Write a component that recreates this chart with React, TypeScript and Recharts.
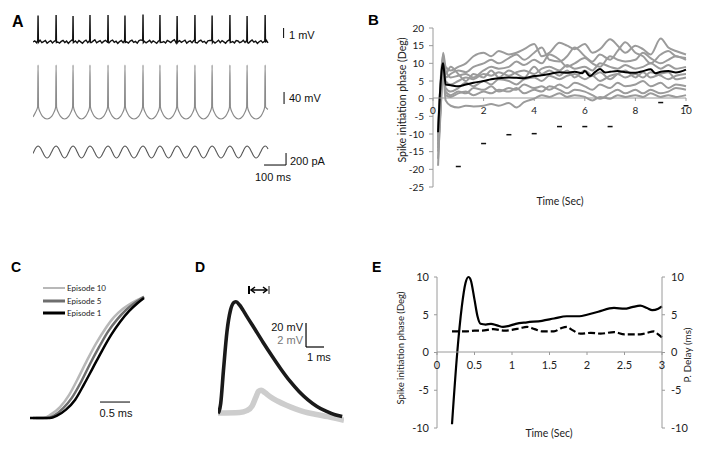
import React from "react";
import {
  LineChart,
  ComposedChart,
  Line,
  Scatter,
  XAxis,
  YAxis,
  ReferenceLine,
} from "recharts";

// ---------- Panel A: example traces (time in ms) ----------
const traceEnd = 1068;
const spikeTimes = [23, 105, 182, 259, 341, 418, 500, 577, 655, 736, 814, 895, 973, 1055];
const a1SpikeMv = [2.65, 2.7, 2.6, 2.7, 2.7, 2.65, 2.75, 2.7, 2.6, 2.7, 2.65, 2.7, 2.6, 2.7];
const a1PreSpike = 0.15;
const a1PostSpike = -0.05;
const a1NoiseUnit = 0.015; // mV per noise unit
// baseline noise of the top trace
const a1Noise = [
  0, 8, -5, 6, 12, -4, 3, 10, -8, 2,
  9, -6, 5, 14, 0, -7, 4, 11, -3, 6,
  -9, 3, 13, -2, 7, -6, 10, 1, -8, 5,
  12, -4, 8, -3, 6, 15, -5, 2, 9, -7,
  4, 11, 0, -6, 7, 13, -2, 5, -9, 3,
  10, -4, 8, 1, -7, 6, 12, -3, 4, -8,
  9, 14, -1, 5, -6, 2, 11, -5, 7, 0,
  -9, 6, 13, -2, 3, -7, 10, 4, -4, 8,
  15, -6, 1, 9, -3, 5, 12, -8, 2, 7,
  -5, 10, 0, -6, 6, 13, -1, 4, -9, 8,
  11, -3, 5, -7, 2, 12, -4, 9, 1, -8,
  6, 14, -2, 3, -6, 10, 7, -5, 0, 11,
  -3, 8, -7, 4, 13, -1, 6, -9, 2, 9,
  -4, 5, 12, -6,
];
// middle trace (mV): points around each spike, offsets in ms
const a2Lead = [[0, -63], [11, -48], [21, -30]];
const a2After = [[2, -30], [10, -48], [20, -61]];
const a2Before = [[20, -61], [10, -48], [2, -30]];
const a2Trough = -70;
const a2SpikeMv = 110;
const a2Tail = [[1057, -30], [1068, -38]];
// bottom trace: injected current (pA), values at eighths of each cycle
const a3Lead = [[0, -24], [3, 0], [13, 71]];
const a3Cycle = [100, 71, 0, -71, -100, -71, 0, 71];
const a3Tail = [[1068, 50]];

// ---------- Panel B: spike initiation phase vs time ----------
const bGrid = [0.2, 0.3, 0.4, 0.5, 0.7, 1.0, 1.3, 1.6, 2.0, 2.3, 2.6, 3.0, 3.3, 3.6, 4.0, 4.3, 4.6, 5.0, 5.3, 5.6, 6.0, 6.3, 6.6, 7.0, 7.3, 7.6, 8.0, 8.3, 8.6, 9.0, 9.3, 9.6, 10.0];
const bGray1 = [-13, 2, 13, 9, 8, 9, 10, 12, 13, 12, 13.5, 12.5, 13, 14, 15.5, 12, 13, 15.8, 15, 14, 15.5, 13, 14, 16.8, 15, 13, 15, 14, 12.5, 17, 14.5, 13.5, 12.5];
const bGray2 = [-19, 0, 12, 6, 7, 8, 7.5, 9, 10, 11, 10, 11.5, 12.5, 11, 13, 14.5, 11, 10.5, 12, 14.5, 12, 10.5, 12.5, 11, 13.5, 16, 13, 12, 10, 12.5, 13.5, 12, 11.5];
const bGray3 = [-15, -2, 11, 8, 6, 6.5, 7, 6, 8, 9, 8.5, 9, 10.5, 9.5, 11, 10, 12.5, 11, 9, 10, 11.5, 10, 9, 12, 11, 10.5, 11, 13, 11.5, 10, 11, 12, 11];
const bGray4 = [-10, 3, 10, 5, 4, 5, 6, 5.5, 7, 6.5, 7.5, 6.5, 7.5, 8, 7, 8.5, 9, 8, 9.5, 8.5, 9, 8, 10, 9, 8.5, 9.5, 8.5, 9, 10, 8.5, 9.5, 8.5, 9];
const bGray5 = [-12, 1, 9.5, 3, 2, 3, 4.5, 3.5, 5, 4, 5.5, 5, 4, 5.5, 6, 5, 6.5, 5.5, 6.5, 7, 5.5, 6.5, 5, 6.5, 7, 6, 7, 6, 7.5, 6.5, 5.5, 6.5, 7];
const bGray6 = [-8, 4, 9, 2, 1, 2, 1.5, 3, 2.5, 3.5, 2, 3, 2.5, 4, 3, 3.5, 2.5, 4, 3, 4.5, 3.5, 2.5, 4, 3, 4.5, 3.5, 4, 5, 3.5, 4.5, 3, 4, 3.5];
const bGray7 = [-17, -4, 10.5, 1, 0.5, 1.5, 2, 1, 2, 1.5, 2.5, 2, 3, 1.5, 2.5, 2, 3.5, 2.5, 1.5, 2.5, 2, 1, 0, 1.5, 2.5, 1.5, 2.5, 1.5, 2.5, 1.5, 2, 3, 2.5];
const bGray8 = [-14, -3, 8, -0.5, -2, -2.5, -2, -2.2, -2, -1.5, -2, -1.2, -2.5, -1, 0, 1, 0.5, 1.5, 0.5, 1, 0.5, -0.5, 0.5, 0, 1, 0.5, 1, 0.5, 1.5, 0.5, 1, 0.5, 1];
const bGray9 = [-11, 5, 12.5, 7, 9, 7, 5, 7, 6, 8, 6, 8, 7, 6, 9, 7, 8, 6.5, 8, 6, 8, 6.5, 7.5, 5.5, 7, 8, 6, 7.5, 6, 7, 7.5, 5.5, 6];
const bGraySeries = [bGray1, bGray2, bGray3, bGray4, bGray5, bGray6, bGray7, bGray8, bGray9];
const bMean = [
  [0.2, -9.5], [0.28, 2], [0.36, 9], [0.4, 10], [0.45, 7], [0.5, 4], [0.7, 3.8], [1, 3.5],
  [1.3, 4], [1.6, 4.5], [2, 5], [2.3, 5.5], [2.6, 5.8], [3, 6], [3.3, 5.9], [3.6, 5.8],
  [4, 6.4], [4.3, 6.6], [4.6, 7], [5, 7.5], [5.3, 7.3], [5.6, 7.6], [5.9, 7.2], [6, 7.8],
  [6.2, 6.4], [6.4, 7.5], [6.6, 8.4], [6.8, 7.4], [7, 7.6], [7.3, 7.8], [7.6, 7.5], [8, 7.3],
  [8.3, 7.8], [8.6, 8.3], [8.8, 7.2], [9, 7.6], [9.3, 7.8], [9.6, 7.4], [10, 8.2],
];
const bDashT = [1, 2, 3, 4, 5, 6, 7, 9, 10];
const bDashV = [-19.2, -12.7, -10.2, -9.9, -7.9, -7.9, -7.9, -1.1, -2.0];
const bYTicks = [-25, -20, -15, -10, -5, 0, 5, 10, 15, 20];
const bXTicks = [0, 2, 4, 6, 8, 10];

// ---------- Panel C: spike onset, three episodes (ms, normalised) ----------
const cEpisode1 = [[0, 0], [0.33, 0], [0.45, 0.02], [0.6, 0.07], [0.75, 0.15], [0.9, 0.28], [1.05, 0.42], [1.2, 0.56], [1.35, 0.69], [1.5, 0.8], [1.65, 0.89], [1.8, 0.96], [1.9, 1.0]];
const cEpisode5 = [[0.05, 0], [0.28, 0], [0.4, 0.02], [0.55, 0.08], [0.7, 0.17], [0.85, 0.3], [1.0, 0.45], [1.15, 0.59], [1.3, 0.72], [1.45, 0.82], [1.6, 0.9], [1.75, 0.96], [1.9, 1.01]];
const cEpisode10 = [[0.1, 0], [0.22, 0], [0.35, 0.03], [0.5, 0.09], [0.65, 0.19], [0.8, 0.33], [0.95, 0.48], [1.1, 0.62], [1.25, 0.74], [1.4, 0.84], [1.55, 0.91], [1.7, 0.96], [1.9, 1.01]];

// ---------- Panel D: pre (black, mV) and post (gray, mV) responses ----------
const dPre = [[0, 0], [0.05, 1], [0.15, 8], [0.3, 35], [0.5, 68], [0.7, 86], [0.9, 92.3], [1.0, 92.7], [1.2, 90], [1.4, 85.5], [1.6, 80.5], [2.0, 71], [2.5, 59], [3.0, 47.5], [3.5, 36.5], [4.0, 26.5], [4.5, 18], [5.0, 11], [5.5, 5.5], [6.0, 1.5], [6.5, -1.5], [6.9, -3]];
const dPost = [[0, 0], [1.2, 0.05], [1.6, 0.2], [1.9, 0.6], [2.1, 1.3], [2.25, 1.8], [2.4, 1.9], [2.6, 1.7], [2.9, 1.35], [3.3, 1.0], [3.8, 0.65], [4.3, 0.35], [4.8, 0.1], [5.4, -0.1], [6.1, -0.3], [7.0, -0.6]];

// ---------- Panel E: phase (solid) and P. delay (dashed) ----------
const ePhase = [[0.2, -9.5], [0.27, 0], [0.33, 6], [0.38, 9.2], [0.42, 10], [0.45, 9.6], [0.5, 7], [0.54, 4.8], [0.58, 3.8], [0.65, 3.7], [0.72, 3.8], [0.8, 3.6], [0.88, 3.4], [0.95, 3.5], [1.05, 3.8], [1.2, 4.0], [1.4, 4.2], [1.56, 4.5], [1.73, 4.8], [1.9, 4.8], [2.0, 5.0], [2.15, 5.4], [2.36, 5.9], [2.5, 5.8], [2.6, 6.0], [2.71, 6.2], [2.8, 5.9], [2.87, 5.6], [2.95, 5.8], [3.0, 6.1]];
const eDelay = [[0.2, 2.8], [0.4, 2.8], [0.5, 2.9], [0.6, 2.9], [0.75, 3.1], [0.9, 2.9], [1.0, 3.0], [1.1, 3.2], [1.2, 3.4], [1.3, 3.1], [1.4, 2.8], [1.56, 2.8], [1.65, 3.2], [1.73, 3.4], [1.8, 3.0], [1.91, 2.5], [2.05, 2.6], [2.18, 2.5], [2.36, 2.7], [2.5, 2.4], [2.6, 2.4], [2.71, 2.4], [2.8, 2.6], [2.89, 2.8], [2.95, 2.4], [3.0, 2.0]];
const eYTicks = [-10, -5, 0, 5, 10];
const eXTicks = [0, 0.5, 1, 1.5, 2, 2.5, 3];

// ---------- build tables ----------
const rows = (pairs: number[][]) => pairs.map(([t, v]) => ({ t, v }));

const a1Data = (() => {
  const step = traceEnd / (a1Noise.length - 1);
  const pts = a1Noise
    .map((n, i) => ({ t: i * step, v: n * a1NoiseUnit }))
    .filter((p) => spikeTimes.every((s) => Math.abs(p.t - s) > 3));
  spikeTimes.forEach((s, i) => {
    pts.push({ t: s - 1.5, v: a1PreSpike }, { t: s, v: a1SpikeMv[i] }, { t: s + 1.5, v: a1PostSpike });
  });
  return pts.sort((a, b) => a.t - b.t);
})();

const a2Data = (() => {
  const pts = rows(a2Lead);
  spikeTimes.forEach((s, i) => {
    pts.push({ t: s, v: a2SpikeMv });
    const n = spikeTimes[i + 1];
    if (n === undefined) return;
    a2After.forEach(([dt, v]) => pts.push({ t: s + dt, v }));
    pts.push({ t: (s + n) / 2, v: a2Trough });
    a2Before.forEach(([dt, v]) => pts.push({ t: n - dt, v }));
  });
  return pts.concat(rows(a2Tail));
})();

const a3Data = (() => {
  const pts = rows(a3Lead);
  spikeTimes.forEach((s, i) => {
    const next = spikeTimes[i + 1] ?? s + (s - spikeTimes[i - 1]);
    const p = next - s;
    a3Cycle.forEach((v, k) => {
      const t = s + (k * p) / 8;
      if (t < traceEnd) pts.push({ t, v });
    });
  });
  return pts.concat(rows(a3Tail));
})();

const bGrayRows = bGrid.map((t, i) => {
  const r: Record<string, number> = { t };
  bGraySeries.forEach((s, k) => (r[`g${k}`] = s[i]));
  return r;
});
const bDashRows = bDashT.map((t, i) => ({ t, v: bDashV[i] }));
const bAxisRows = bXTicks.map((t) => ({ t, v: 0 }));
const eAxisRows = eXTicks.map((t) => ({ t, v: 0 }));

const FONT_SANS = "'Liberation Sans', Arial, sans-serif";
const FONT_CAL = "Lato, 'Open Sans', sans-serif";
const AXIS_GRAY = "#9a9a9a";
const NO_MARGIN = { top: 0, right: 0, bottom: 0, left: 0 };

function Box({ left, top, children }: { left: number; top: number; children: React.ReactNode }) {
  return <div style={{ position: "absolute", left, top }}>{children}</div>;
}

function DashMark(props: any) {
  const { cx, cy } = props;
  return <line x1={cx - 2.5} x2={cx + 2.5} y1={cy} y2={cy} stroke="#111" strokeWidth={1.5} />;
}

export default function App() {
  return (
    <div
      style={{
        position: "absolute",
        left: 0,
        top: 0,
        width: 707,
        height: 452,
        background: "#fff",
        overflow: "hidden",
      }}
    >
      {/* A: top trace */}
      <Box left={33} top={12}>
        <LineChart width={257} height={36} data={a1Data} margin={NO_MARGIN}>
          <XAxis dataKey="t" type="number" domain={[0, 1168]} hide />
          <YAxis domain={[-0.6, 3]} hide />
          <Line dataKey="v" type="linear" stroke="#111" strokeWidth={1.4} dot={false} isAnimationActive={false} />
          <ReferenceLine segment={[{ x: 1139, y: 0.4 }, { x: 1139, y: 1.4 }]} stroke="#000" strokeWidth={1} ifOverflow="visible" />
        </LineChart>
      </Box>
      {/* A: middle trace */}
      <Box left={33} top={62}>
        <LineChart width={257} height={60} data={a2Data} margin={NO_MARGIN}>
          <XAxis dataKey="t" type="number" domain={[0, 1168]} hide />
          <YAxis domain={[-80, 120]} hide />
          <Line dataKey="v" type="monotone" stroke="#8a8a8a" strokeWidth={1.2} dot={false} isAnimationActive={false} />
          <ReferenceLine segment={[{ x: 1141, y: -20 }, { x: 1141, y: 20 }]} stroke="#000" strokeWidth={1} ifOverflow="visible" />
        </LineChart>
      </Box>
      {/* A: bottom trace */}
      <Box left={33} top={140}>
        <LineChart width={257} height={27} data={a3Data} margin={NO_MARGIN}>
          <XAxis dataKey="t" type="number" domain={[0, 1168]} hide />
          <YAxis domain={[-250, 200]} hide />
          <Line dataKey="v" type="monotone" stroke="#555" strokeWidth={1.1} dot={false} isAnimationActive={false} />
          <ReferenceLine segment={[{ x: 1150, y: -217 }, { x: 1150, y: -17 }]} stroke="#000" strokeWidth={1} ifOverflow="visible" />
          <ReferenceLine segment={[{ x: 1050, y: -217 }, { x: 1150, y: -217 }]} stroke="#000" strokeWidth={1} ifOverflow="visible" />
        </LineChart>
      </Box>

      {/* B: main plot with y axis */}
      <Box left={397} top={20}>
        <ComposedChart width={297} height={175} data={bGrayRows} margin={{ top: 8, right: 8, bottom: 8, left: 0 }}>
          <XAxis dataKey="t" type="number" domain={[0, 10]} hide />
          <YAxis
            domain={[-25, 20]}
            ticks={bYTicks}
            interval={0}
            width={36}
            tickSize={4}
            tickMargin={5}
            axisLine={{ stroke: AXIS_GRAY }}
            tickLine={{ stroke: AXIS_GRAY }}
            tick={{ fontSize: 10, fill: "#222", fontFamily: FONT_CAL }}
          />
          {bGraySeries.map((_, k) => (
            <Line key={k} dataKey={`g${k}`} type="monotone" stroke="#9b9b9b" strokeWidth={2} dot={false} isAnimationActive={false} />
          ))}
          <Line data={rows(bMean)} dataKey="v" type="monotone" stroke="#000" strokeWidth={2} dot={false} isAnimationActive={false} />
          <Scatter data={bDashRows} dataKey="v" shape={DashMark} isAnimationActive={false} />
        </ComposedChart>
      </Box>
      {/* B: x axis crossing at zero */}
      <Box left={397} top={20}>
        <LineChart width={297} height={98} data={bAxisRows} margin={{ top: 8, right: 8, bottom: 0, left: 36 }}>
          <XAxis
            dataKey="t"
            type="number"
            domain={[0, 10]}
            ticks={bXTicks}
            interval={0}
            height={20}
            tickSize={3}
            tickMargin={6}
            axisLine={{ stroke: AXIS_GRAY }}
            tickLine={{ stroke: AXIS_GRAY }}
            tick={{ fontSize: 10, fill: "#222", fontFamily: FONT_CAL }}
          />
          <YAxis domain={[0, 1]} hide />
          <Line dataKey="v" stroke="none" dot={false} isAnimationActive={false} />
        </LineChart>
      </Box>

      {/* C */}
      <Box left={30} top={292}>
        <LineChart width={120} height={132} margin={NO_MARGIN}>
          <XAxis dataKey="t" type="number" domain={[0, 2]} hide />
          <YAxis domain={[-0.05, 1.05]} hide />
          <Line data={rows(cEpisode10)} dataKey="v" type="monotone" stroke="#b8b8b8" strokeWidth={2.5} dot={false} isAnimationActive={false} />
          <Line data={rows(cEpisode5)} dataKey="v" type="monotone" stroke="#6e6e6e" strokeWidth={2.5} dot={false} isAnimationActive={false} />
          <Line data={rows(cEpisode1)} dataKey="v" type="monotone" stroke="#000" strokeWidth={2.5} dot={false} isAnimationActive={false} />
          <ReferenceLine segment={[{ x: 1.167, y: 0.133 }, { x: 1.667, y: 0.133 }]} stroke="#000" strokeWidth={1} ifOverflow="visible" />
        </LineChart>
      </Box>

      {/* D */}
      <Box left={218} top={290}>
        <LineChart width={126} height={135} margin={NO_MARGIN}>
          <XAxis dataKey="t" type="number" domain={[0, 7]} hide />
          <YAxis yAxisId="l" domain={[-10, 102.5]} hide />
          <YAxis yAxisId="r" orientation="right" domain={[-1, 10.25]} hide />
          <Line yAxisId="r" data={rows(dPost)} dataKey="v" type="monotone" stroke="#cdcdcd" strokeWidth={5.5} dot={false} isAnimationActive={false} />
          <Line yAxisId="l" data={rows(dPre)} dataKey="v" type="monotone" stroke="#1a1a1a" strokeWidth={3.6} dot={false} isAnimationActive={false} />
          <ReferenceLine yAxisId="l" segment={[{ x: 4.89, y: 75 }, { x: 4.89, y: 55 }]} stroke="#000" strokeWidth={1.2} ifOverflow="visible" />
          <ReferenceLine yAxisId="l" segment={[{ x: 4.89, y: 55 }, { x: 5.89, y: 55 }]} stroke="#000" strokeWidth={1.2} ifOverflow="visible" />
        </LineChart>
      </Box>

      {/* E: main plot with both y axes */}
      <Box left={401} top={269}>
        <LineChart width={297} height={167} margin={{ top: 8, right: 0, bottom: 8, left: 0 }}>
          <XAxis dataKey="t" type="number" domain={[0, 3]} hide />
          <YAxis
            yAxisId="l"
            domain={[-10, 10]}
            ticks={eYTicks}
            interval={0}
            width={36}
            tickSize={3}
            tickMargin={5}
            axisLine={{ stroke: AXIS_GRAY }}
            tickLine={{ stroke: AXIS_GRAY }}
            tick={{ fontSize: 11, fill: "#222", fontFamily: FONT_CAL }}
          />
          <YAxis
            yAxisId="r"
            orientation="right"
            domain={[-10, 10]}
            ticks={eYTicks}
            interval={0}
            width={36}
            tickSize={3}
            tickMargin={6}
            axisLine={{ stroke: AXIS_GRAY }}
            tickLine={{ stroke: AXIS_GRAY }}
            tick={{ fontSize: 11, fill: "#222", fontFamily: FONT_CAL }}
          />
          <Line yAxisId="l" data={rows(ePhase)} dataKey="v" type="monotone" stroke="#000" strokeWidth={2.2} dot={false} isAnimationActive={false} />
          <Line yAxisId="r" data={rows(eDelay)} dataKey="v" type="monotone" stroke="#000" strokeWidth={2.2} strokeDasharray="7 3" dot={false} isAnimationActive={false} />
        </LineChart>
      </Box>
      {/* E: x axis crossing at zero */}
      <Box left={401} top={269}>
        <LineChart width={297} height={103} data={eAxisRows} margin={{ top: 8, right: 36, bottom: 0, left: 36 }}>
          <XAxis
            dataKey="t"
            type="number"
            domain={[0, 3]}
            ticks={eXTicks}
            interval={0}
            height={20}
            tickSize={3}
            tickMargin={6}
            axisLine={{ stroke: AXIS_GRAY }}
            tickLine={{ stroke: AXIS_GRAY }}
            tick={{ fontSize: 11, fill: "#222", fontFamily: FONT_CAL }}
          />
          <YAxis domain={[0, 1]} hide />
          <Line dataKey="v" stroke="none" dot={false} isAnimationActive={false} />
        </LineChart>
      </Box>

      {/* labels and annotations */}
      <svg width={707} height={452} style={{ position: "absolute", left: 0, top: 0, pointerEvents: "none" }}>
        <g fontFamily={FONT_SANS} fontWeight="bold" fill="#000">
          <text x={12} y={27} fontSize={16}>A</text>
          <text x={368} y={25} fontSize={15}>B</text>
          <text x={11} y={272} fontSize={14}>C</text>
          <text x={195} y={272} fontSize={14}>D</text>
          <text x={372} y={272} fontSize={14}>E</text>
        </g>
        <g fontFamily={FONT_SANS} fontSize={11} fill="#111">
          <text x={289} y={39}>1 mV</text>
          <text x={289} y={102}>40 mV</text>
          <text x={290} y={165}>200 pA</text>
          <text x={273} y={181} textAnchor="middle">100 ms</text>
          <text x={116} y={417} textAnchor="middle">0.5 ms</text>
          <text x={303} y={331} textAnchor="end">20 mV</text>
          <text x={303} y={344} textAnchor="end" fill="#777">2 mV</text>
          <text x={307} y={361}>1 ms</text>
        </g>
        <g fontFamily={FONT_CAL} fill="#222">
          <text x={560} y={205} fontSize={10.5} textAnchor="middle">Time (Sec)</text>
          <text transform="translate(406,100) rotate(-90)" fontSize={10.5} textAnchor="middle">
            Spike initiation phase (Deg)
          </text>
          <text x={549} y={437} fontSize={10.5} textAnchor="middle">Time (Sec)</text>
          <text transform="translate(404,348) rotate(-90)" fontSize={9.5} textAnchor="middle">
            Spike initiation phase (Deg)
          </text>
          <text transform="translate(691,355) rotate(-90)" fontSize={10} textAnchor="middle">
            P. Delay (ms)
          </text>
          <text x={67} y={291} fontSize={8}>Episode 10</text>
          <text x={67} y={304} fontSize={8}>Episode 5</text>
          <text x={67} y={316} fontSize={8}>Episode 1</text>
        </g>
        {/* legend swatches for C */}
        <line x1={43} x2={65} y1={288} y2={288} stroke="#b8b8b8" strokeWidth={2} />
        <line x1={43} x2={65} y1={301} y2={301} stroke="#6e6e6e" strokeWidth={3} />
        <line x1={43} x2={65} y1={313} y2={313} stroke="#000" strokeWidth={3} />
        {/* delay marker in D */}
        <line x1={249} x2={249} y1={286} y2={294} stroke="#000" strokeWidth={2} />
        <line x1={269} x2={269} y1={286} y2={294} stroke="#888" strokeWidth={2} />
        <line x1={251} x2={267} y1={290} y2={290} stroke="#000" strokeWidth={1.5} />
        <polyline points="255,287 251,290 255,293" fill="none" stroke="#000" strokeWidth={1.5} />
        <polyline points="263,287 267,290 263,293" fill="none" stroke="#000" strokeWidth={1.5} />
      </svg>
    </div>
  );
}
